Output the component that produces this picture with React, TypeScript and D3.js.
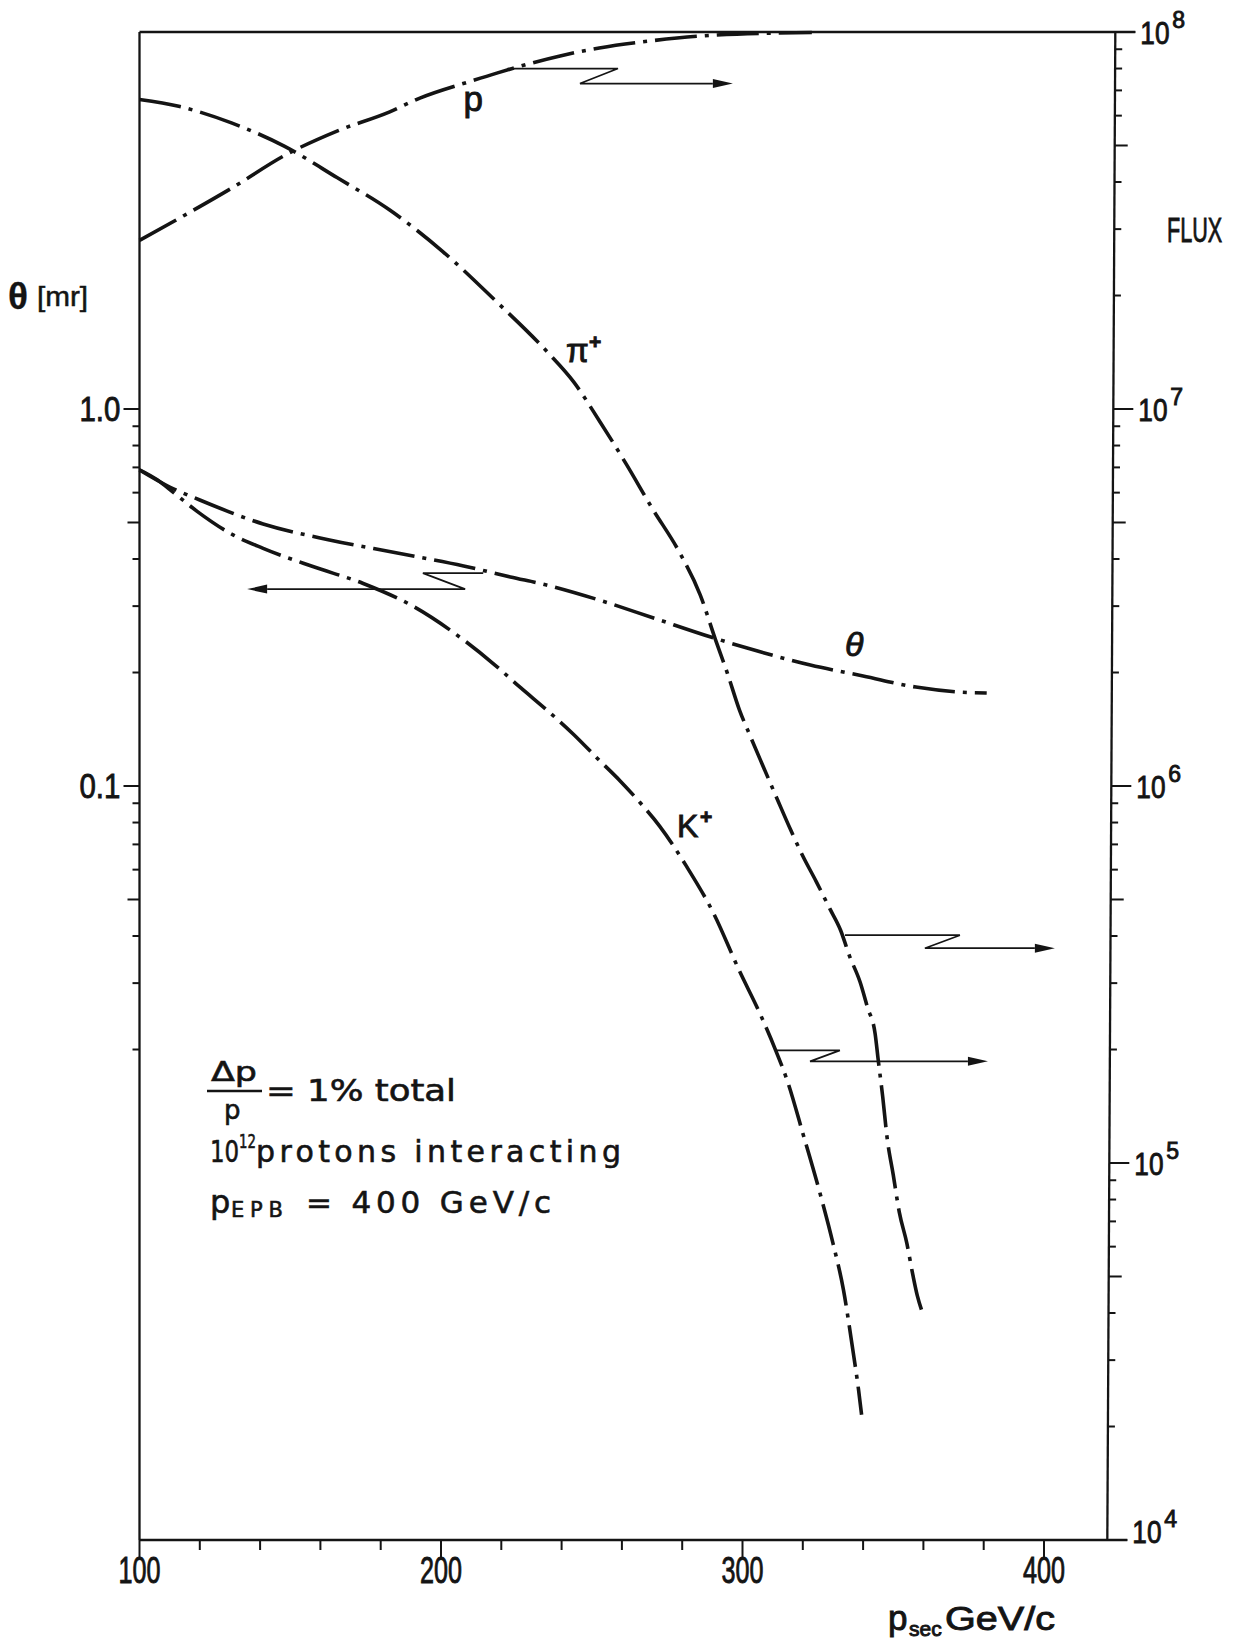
import React from 'react';
import * as d3 from 'd3';

const W = 1236;
const H = 1645;
const FONT = '"Liberation Sans", Arial, sans-serif';
const FONT2 = '"DejaVu Sans", "Liberation Sans", sans-serif';

// ---- data (p_sec in GeV/c) ----
const pMomentum = [100, 113, 130.5, 148, 165.5, 183, 193, 210, 218.5, 239.5, 252.5, 269, 291.5, 323];
const pFlux = [2.8e7, 3.2e7, 3.85e7, 4.7e7, 5.46e7, 6.14e7, 6.68e7, 7.41e7, 7.78e7, 8.64e7, 9.07e7, 9.46e7, 9.82e7, 9.97e7];

const piMomentum = [100, 113, 130.5, 148, 165.5, 183, 200.5, 218, 235.5, 244, 252.5, 261.5, 270, 279, 286, 291, 295, 299, 302.5, 307, 311.5, 316, 320, 324.5, 329, 332.5, 335.5, 339, 341.5, 344, 345, 346.5, 348, 350, 352, 354.5, 356.5, 358, 359.5];
const piFlux = [6.62e7, 6.35e7, 5.74e7, 4.98e7, 4.11e7, 3.37e7, 2.62e7, 1.94e7, 1.41e7, 1.18e7, 9.31e6, 7.13e6, 5.46e6, 4.18e6, 3.21e6, 2.45e6, 1.99e6, 1.59e6, 1.36e6, 1.12e6, 9.24e5, 7.64e5, 6.52e5, 5.57e5, 4.72e5, 4.15e5, 3.54e5, 3.02e5, 2.58e5, 2.2e5, 1.88e5, 1.5e5, 1.16e5, 9.3e4, 7.41e4, 6.13e4, 5.05e4, 4.44e4, 4.05e4];

const kMomentum = [100, 106, 111, 119, 130.5, 141, 157.5, 174, 191, 207.5, 218, 226.5, 235.5, 244, 252.5, 259.5, 266, 272.5, 281.5, 290.5, 299, 306, 311, 315, 320, 325.5, 330, 333.5, 336.5, 338.5, 339.5];
const kFlux = [6.9e6, 6.48e6, 6.03e6, 5.36e6, 4.66e6, 4.27e6, 3.82e6, 3.45e6, 2.99e6, 2.44e6, 2.09e6, 1.82e6, 1.58e6, 1.37e6, 1.17e6, 1.03e6, 9.04e5, 7.83e5, 6.11e5, 4.58e5, 3.23e5, 2.47e5, 1.99e5, 1.64e5, 1.2e5, 8.43e4, 6.13e4, 4.6e4, 3.23e4, 2.5e4, 2.15e4];

const thetaMomentum = [100, 110, 120, 141, 163, 185.5, 207.5, 223, 235, 252.5, 270.5, 289.5, 305, 322.5, 340, 357.5, 372, 381];
const thetaMr = [0.689, 0.621, 0.5735, 0.4955, 0.4494, 0.415, 0.3835, 0.3585, 0.3413, 0.3113, 0.279, 0.2484, 0.228, 0.2094, 0.1958, 0.183, 0.1775, 0.1765];

// ---- axes ----
const xDomain = [100, 400];
const xMax = 421;
const thetaDomain = [0.001, 10];
const fluxDomain = [1e4, 1e8];
const xTicks = d3.range(100, 420, 20);
const xLabels = [100, 200, 300, 400];
const thetaTicks = [0.02, 0.03, 0.04, 0.05, 0.06, 0.07, 0.08, 0.09, 0.1, 0.2, 0.3, 0.4, 0.5, 0.6, 0.7, 0.8, 0.9, 1.0];
const thetaLabels = [{ v: 1.0, t: '1.0' }, { v: 0.1, t: '0.1' }];
const fluxDecades = [4, 5, 6, 7];
const fluxMantissas = [1, 2, 3, 4, 5, 6, 7, 8, 9];
const fluxLabelExp = [8, 7, 6, 5, 4];

// arrows: start point on a curve, zig-zag, end (dir 1 => right, -1 => left)
const arrows = [
  { axis: 'flux', dir: 1, x0: 222, v0: 8.0e7, xZig: 258.7, xBack: 246.1, xEnd: 296.8, drop: 15 },
  { axis: 'theta', dir: -1, x0: 214, v0: 0.367, xZig: 194, xBack: 208, xEnd: 135.7, drop: 16 },
  { axis: 'flux', dir: 1, x0: 334, v0: 4.02e5, xZig: 372.1, xBack: 360.5, xEnd: 403.6, drop: 13 },
  { axis: 'flux', dir: 1, x0: 311.1, v0: 1.99e5, xZig: 332.3, xBack: 322.4, xEnd: 381.4, drop: 11 },
];

function zip(a: number[], b: number[]): [number, number][] {
  return a.map((v, i) => [v, b[i]] as [number, number]);
}

const ink = '#141414';

function ST(props: any) {
  const { x, y, sx = 1, size, children, ...rest } = props;
  return (
    <text transform={`translate(${x},${y}) scale(${sx},1)`} fontSize={size} {...rest}>{children}</text>
  );
}

export default function App() {
  const T = 32, B = 1540;
  const x = d3.scaleLinear().domain(xDomain).range([139.5, 1044]);
  const L = x(100);
  const Rtop = x(xMax) + 8, Rbot = x(xMax); // scanned axis is slightly skewed
  const rx = (y: number) => Rtop + (Rbot - Rtop) * (y - T) / (B - T);
  const yT = d3.scaleLog().domain(thetaDomain).range([B, T]);
  const yF = d3.scaleLog().domain(fluxDomain).range([B, T]);

  const mk = (ys: any) =>
    d3.line<[number, number]>().x(d => x(d[0])).y(d => ys(d[1])).curve(d3.curveMonotoneX);

  const curves = [
    mk(yF)(zip(pMomentum, pFlux)),
    mk(yF)(zip(piMomentum, piFlux)),
    mk(yF)(zip(kMomentum, kFlux)),
    mk(yT)(zip(thetaMomentum, thetaMr)),
  ];

  const fluxTicks: { v: number; len: number }[] = [];
  fluxDecades.forEach(e => fluxMantissas.forEach(m => {
    fluxTicks.push({ v: m * Math.pow(10, e), len: m === 1 ? 20 : m === 5 ? 13 : 7 });
  }));
  fluxTicks.push({ v: 1e8, len: 20 });

  const dash = '42 8 4 8';
  const headLen = 20, headHalf = 4.5;
  const bold = { stroke: ink, strokeWidth: 0.9 } as any;

  return (
    <svg width={W} height={H} style={{ position: 'absolute', left: 0, top: 0, background: '#fff', display: 'block' }}>
      <rect x={0} y={0} width={W} height={H} fill="#fff" />
      {/* frame */}
      <g stroke={ink} strokeWidth={2.3} fill="none">
        <line x1={L} y1={T} x2={L} y2={B} />
        <line x1={Rtop} y1={T} x2={Rbot} y2={B} />
        <line x1={L} y1={T} x2={Rtop + 20} y2={T} />
        <line x1={L} y1={B} x2={Rbot + 20} y2={B} />
      </g>
      {/* bottom ticks */}
      <g stroke={ink} strokeWidth={2}>
        {xTicks.map(v => (
          <line key={v} x1={x(v)} x2={x(v)} y1={B} y2={B + (v % 100 === 0 ? 18 : 10)} />
        ))}
      </g>
      {/* left ticks */}
      <g stroke={ink} strokeWidth={2}>
        {thetaTicks.map(v => {
          const m = Math.round(v / Math.pow(10, Math.floor(Math.log10(v) + 1e-9)));
          const len = m === 1 ? 16 : m === 5 ? 12 : 7;
          return <line key={v} x1={L - len} x2={L} y1={yT(v)} y2={yT(v)} />;
        })}
      </g>
      {/* right ticks */}
      <g stroke={ink} strokeWidth={2}>
        {fluxTicks.map(t => {
          const yy = yF(t.v);
          return <line key={t.v} x1={rx(yy)} x2={rx(yy) + t.len} y1={yy} y2={yy} />;
        })}
      </g>
      {/* x labels */}
      <g fill={ink} fontFamily={FONT} {...bold}>
        {xLabels.map(v => (
          <ST key={v} x={x(v) - 21} y={B + 43} size={37} sx={0.68}>{v}</ST>
        ))}
      </g>
      {/* left labels */}
      <g fill={ink} fontFamily={FONT} {...bold}>
        {thetaLabels.map(l => (
          <ST key={l.t} x={L - 19 - 41} y={yT(l.v) + 12} size={35} sx={0.84}>{l.t}</ST>
        ))}
      </g>
      {/* right labels */}
      <g fill={ink} fontFamily={FONT} {...bold}>
        {fluxLabelExp.map(e => {
          const yy = yF(Math.pow(10, e));
          const base = e === 4 ? yy + 3 : yy + 12;
          return (
            <g key={e}>
              <ST x={rx(yy) + 25} y={base} size={32} sx={0.82}>10</ST>
              <text x={rx(yy) + 57} y={base - 16} fontSize={23}>{e}</text>
            </g>
          );
        })}
      </g>
      {/* axis titles */}
      <g fill={ink} fontFamily={FONT} {...bold}>
        <ST x={1167} y={242} size={36} sx={0.6}>FLUX</ST>
        <text x={8} y={309} fontSize={37} fontWeight="bold" strokeWidth={0.3}>θ</text>
        <ST x={37} y={306} size={27} sx={1.1} strokeWidth={0.5}>[mr]</ST>
        <text x={888} y={1630} fontSize={35}>p</text>
        <text x={909} y={1636} fontSize={21}>sec</text>
        <ST x={945} y={1630} size={33} sx={1.2}>GeV/c</ST>
      </g>
      {/* curves */}
      <g fill="none" stroke={ink} strokeWidth={3.6} strokeDasharray={dash}>
        {curves.map((d, i) => <path key={i} d={d || ''} />)}
      </g>
      {/* arrows */}
      <g stroke={ink} strokeWidth={1.7} fill="none">
        {arrows.map((a, i) => {
          const ys = a.axis === 'flux' ? yF : yT;
          const y0 = ys(a.v0);
          const y1 = y0 + a.drop;
          const xe = x(a.xEnd);
          const d = `M${x(a.x0)},${y0}H${x(a.xZig)}L${x(a.xBack)},${y1}H${xe - a.dir * headLen}`;
          const head = `M${xe},${y1}L${xe - a.dir * headLen},${y1 - headHalf}L${xe - a.dir * headLen},${y1 + headHalf}Z`;
          return (
            <g key={i}>
              <path d={d} />
              <path d={head} fill={ink} stroke="none" />
            </g>
          );
        })}
      </g>
      {/* curve labels */}
      <g fill={ink} fontFamily={FONT} {...bold}>
        <text x={x(207.5)} y={yF(6.17e7)} fontSize={35}>p</text>
        <text x={x(241.5)} y={yF(1.33e7)} fontSize={33}>π</text>
        <text x={x(241.5) + 23} y={yF(1.33e7) - 13} fontSize={21} fontWeight="bold">+</text>
        <text x={x(334)} y={yT(0.2213)} fontSize={34} fontStyle="italic">θ</text>
        <text x={x(278.3)} y={yF(7.32e5)} fontSize={32}>K</text>
        <text x={x(278.3) + 23} y={yF(7.32e5) - 13} fontSize={21} fontWeight="bold">+</text>
      </g>
      {/* notes */}
      <g fill={ink} fontFamily={FONT2} {...bold} strokeWidth={0.6}>
        <text x={211} y={1081} fontSize={27} textLength={46} lengthAdjust="spacingAndGlyphs">Δp</text>
        <line x1={207} x2={262} y1={1091} y2={1091} stroke={ink} strokeWidth={2.6} />
        <text x={224} y={1119} fontSize={26}>p</text>
        <text x={266} y={1101} fontSize={30} textLength={190} lengthAdjust="spacingAndGlyphs">= 1% total</text>
        <ST x={210} y={1162} size={31} sx={0.74}>10</ST>
        <ST x={239} y={1148} size={19} sx={0.7}>12</ST>
        <text x={256} y={1162} fontSize={30} textLength={365} lengthAdjust="spacing">protons interacting</text>
        <text x={210} y={1213} fontSize={32}>p</text>
        <text x={231} y={1217} fontSize={21} textLength={52} lengthAdjust="spacing">EPB</text>
        <text x={306} y={1213} fontSize={31} textLength={245} lengthAdjust="spacing">= 400  GeV/c</text>
      </g>
    </svg>
  );
}
